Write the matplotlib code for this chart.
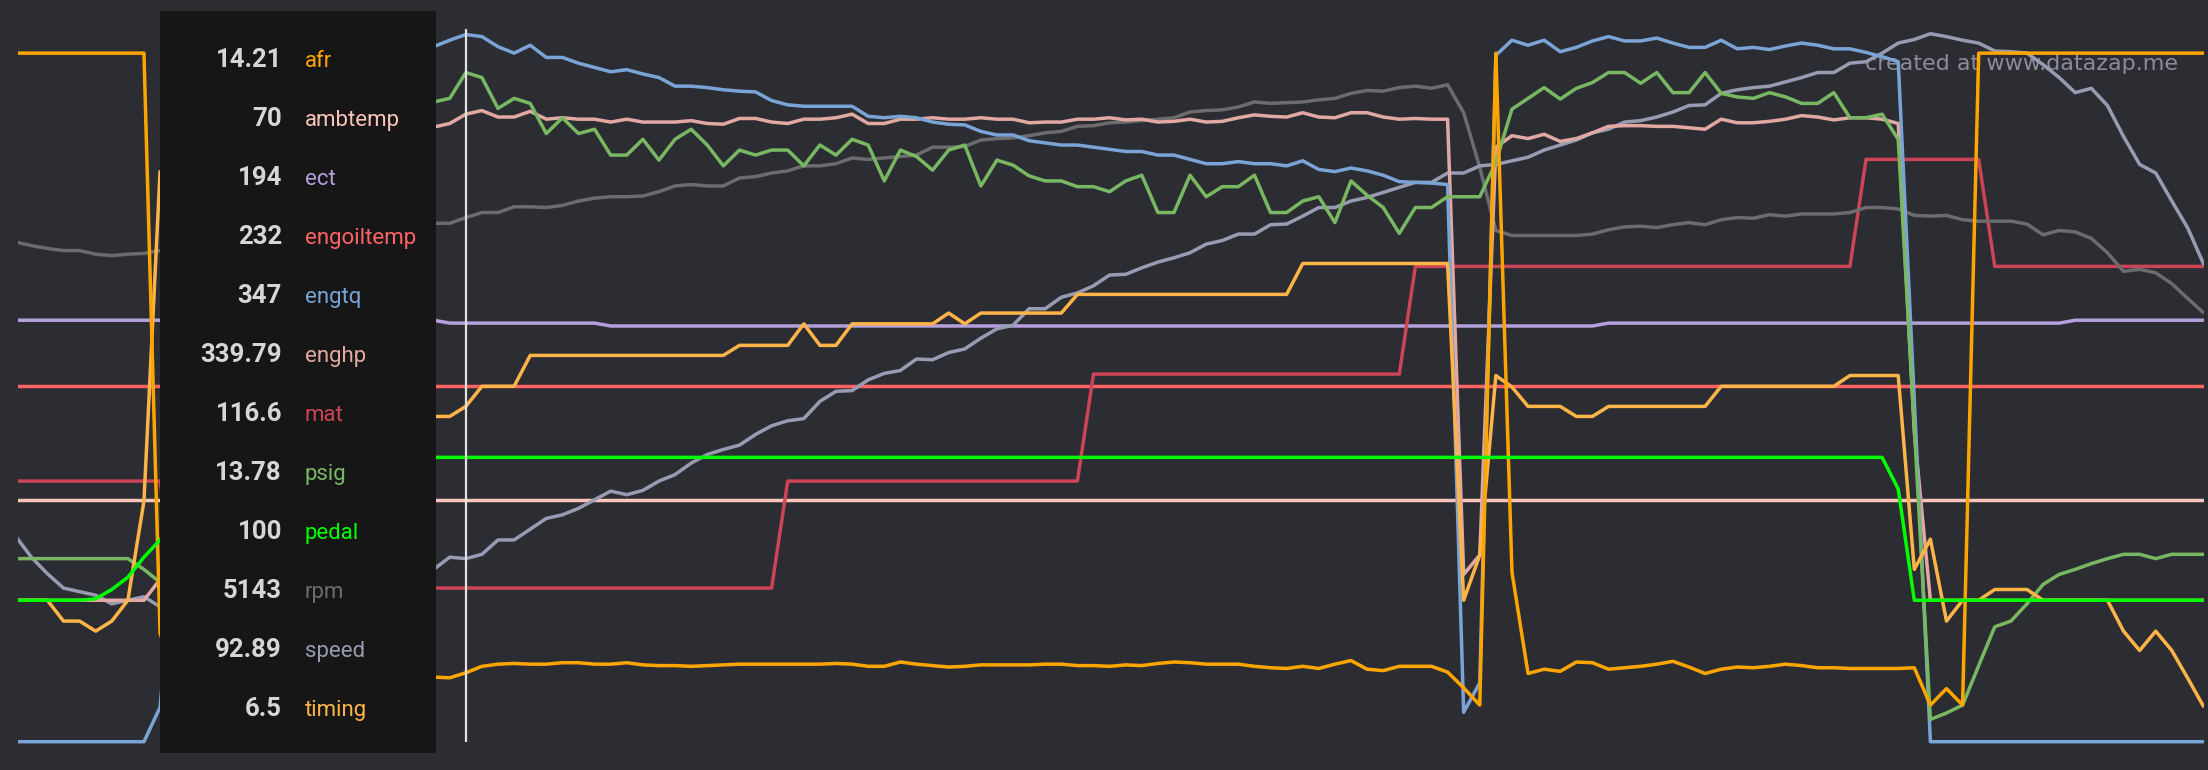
import matplotlib
matplotlib.use("Agg")
import matplotlib.pyplot as plt
from matplotlib.patches import Rectangle
import numpy as np

# datazap style log view: every channel drawn on its own 0-100 scale
# sample index 0..136, cursor sits on sample 28
cursor_idx = 28

afr = ([96.5] * 9 + [15.7]
       + [9.5, 9.8, 10.0, 10.2, 10.5, 10.6, 10.8, 11.0, 11.2, 11.0, 10.8, 10.6, 10.4, 10.2, 10.0, 9.8, 9.6]
       + [9.5, 10.2, 11.1, 11.4, 11.5, 11.4, 11.4, 11.6, 11.6, 11.4,
          11.4, 11.6, 11.3, 11.2, 11.2, 11.1, 11.2, 11.3, 11.4, 11.4,
          11.4, 11.4, 11.4, 11.4, 11.5, 11.4, 11.1, 11.1, 11.7, 11.4,
          11.2, 11.0, 11.1, 11.3, 11.3, 11.3, 11.3, 11.4, 11.4, 11.2,
          11.2, 11.1, 11.3, 11.2, 11.5, 11.7, 11.6, 11.4, 11.4, 11.4,
          11.1, 10.9, 10.8, 11.1, 10.8, 11.4, 11.9, 10.7, 10.5, 11.1,
          11.1, 11.1, 10.3, 8.1, 5.7, 96.5, 24.2, 10.1, 10.7, 10.4,
          11.7, 11.6, 10.7, 10.9, 11.1, 11.4, 11.8, 11.0, 10.1, 10.7,
          11.0, 10.9, 11.1, 11.4, 11.2, 10.9, 10.9, 10.8, 10.8, 10.8,
          10.8, 10.9, 5.7, 8.0, 5.7]
       + [96.5] * 15)

ambtemp = [34.3] * 137

ect = [59.3] * 27 + [58.9] * 10 + [58.5] * 62 + [58.9] * 29 + [59.3] * 9

engoiltemp = [50.1] * 137

engtq = ([0.6] * 9 + [5.4]
         + [30, 60, 80, 88, 92, 94, 95, 95.5, 96, 96, 96.5, 96.5, 97, 97, 97, 97.2, 97.4]
         + [98.3, 99.1, 98.8, 97.4, 96.5, 97.6, 95.9, 95.9, 95.1, 94.5,
            93.9, 94.2, 93.6, 93.1, 91.9, 91.9, 91.7, 91.4, 91.2, 91.1,
            89.9, 89.3, 89.1, 89.1, 89.1, 89.1, 87.7, 87.5, 87.7, 87.5,
            86.9, 86.6, 86.5, 85.6, 85.1, 85.1, 84.3, 84.0, 83.7, 83.7,
            83.4, 83.1, 82.8, 82.8, 82.3, 82.3, 81.7, 81.1, 81.1, 81.4,
            81.1, 81.1, 80.8, 81.5, 80.3, 80.0, 80.5, 80.1, 79.5, 78.6,
            78.5, 78.4, 78.2, 4.7, 8.8, 96.2, 98.3, 97.6, 98.3, 96.7,
            97.3, 98.2, 98.8, 98.2, 98.2, 98.6, 97.9, 97.3, 97.3, 98.3,
            97.1, 97.3, 97.0, 97.5, 97.9, 97.6, 97.1, 97.1, 96.6, 96.0,
            95.3, 48.2]
         + [0.6] * 18)

enghp = ([20.3] * 9 + [23.2]
         + [35, 55, 70, 78, 82, 84, 85, 85.5, 86, 86, 86.2, 86.3, 86.3, 86.1, 86.0, 86.1, 86.2]
         + [86.7, 88.0, 88.5, 87.6, 87.6, 88.4, 87.3, 87.5, 87.3, 87.3,
            86.9, 87.3, 86.9, 86.9, 86.9, 87.1, 86.7, 86.6, 87.4, 87.4,
            86.9, 86.7, 87.3, 87.3, 87.5, 88.0, 86.7, 86.7, 87.3, 87.3,
            87.5, 87.3, 87.3, 87.5, 87.3, 87.3, 86.8, 86.9, 86.9, 87.3,
            87.3, 87.5, 87.2, 87.3, 86.9, 87.0, 87.3, 86.9, 87.0, 87.5,
            87.9, 87.7, 87.6, 88.2, 87.6, 87.5, 88.2, 88.2, 87.6, 87.3,
            87.4, 87.3, 87.3, 23.9, 26.6, 83.4, 85.0, 84.6, 85.2, 84.2,
            84.6, 85.4, 86.3, 86.4, 86.4, 86.3, 86.3, 86.1, 85.9, 87.3,
            86.8, 86.8, 87.0, 87.3, 87.8, 87.6, 87.2, 87.5, 87.5, 87.3,
            86.7, 43.7]
         + [20.3] * 18)

mat = [36.9] * 10 + [22.0] * 38 + [36.9] * 19 + [51.8] * 20 + [66.8] * 28 + [81.7] * 8 + [66.8] * 14

psig = ([26.1] * 8 + [24.6, 22.8]
        + [24, 30, 40, 55, 68, 76, 80, 83, 85, 86, 87, 87.5, 88, 88.5, 89, 89.3, 89.7]
        + [90.2, 93.8, 93.1, 88.8, 90.2, 89.5, 85.3, 87.5, 85.3, 85.9,
           82.3, 82.3, 84.5, 81.6, 84.5, 85.9, 83.7, 80.8, 83.0, 82.3,
           83.0, 83.0, 80.8, 83.7, 82.3, 84.5, 83.7, 78.7, 83.0, 82.1,
           80.2, 83.0, 83.7, 78.0, 81.6, 80.9, 79.4, 78.7, 78.7, 77.9,
           77.9, 77.2, 78.7, 79.5, 74.3, 74.3, 79.5, 76.5, 77.9, 77.9,
           79.5, 74.3, 74.3, 75.9, 76.5, 72.9, 78.7, 76.7, 75.0, 71.4,
           75.0, 75.0, 76.5, 76.5, 76.5, 81.3, 88.7, 90.2, 91.7, 90.1,
           91.6, 92.4, 93.8, 93.8, 92.3, 93.8, 91.0, 91.0, 93.8, 90.9,
           90.4, 90.2, 91.0, 90.4, 89.5, 89.5, 91.0, 87.5, 87.5, 88.0,
           84.5, 44.4, 3.7, 4.6, 5.7, 11.2, 16.6, 17.4, 19.8, 22.5,
           23.9, 24.6, 25.4, 26.1, 26.7, 26.7, 26.1, 26.7, 26.7, 26.7])

pedal = ([20.3] * 5 + [20.5, 21.8, 23.5, 26.3, 28.7]
         + [32, 36, 39] + [40.2] * 14
         + [40.2] * 90 + [35.8] + [20.3] * 19)

rpm = ([70.2, 69.7, 69.3, 69.0, 69.0, 68.5, 68.3, 68.5, 68.6, 69.0]
       + [69.3, 69.5, 69.8, 70.1, 70.2, 70.6, 70.8, 71.0, 71.3, 71.5, 71.9, 72.0, 72.1, 72.4, 72.5, 72.6, 72.8]
       + [72.8, 73.6, 74.3, 74.3, 75.1, 75.1, 75.0, 75.3, 75.9, 76.3,
          76.5, 76.5, 76.6, 77.2, 78.0, 78.2, 78.0, 78.0, 79.1, 79.3,
          79.8, 80.1, 80.8, 80.8, 81.1, 81.9, 81.7, 81.9, 82.1, 82.3,
          83.4, 83.4, 83.5, 84.4, 84.6, 84.7, 85.0, 85.4, 85.6, 86.3,
          86.4, 86.8, 86.9, 87.1, 87.3, 87.5, 88.3, 88.5, 88.6, 89.0,
          89.7, 89.5, 89.6, 89.7, 90.0, 90.2, 90.9, 91.3, 91.2, 91.7,
          91.9, 91.6, 92.1, 88.2, 80.6, 71.8, 71.1, 71.1, 71.1, 71.1,
          71.1, 71.3, 71.9, 72.3, 72.4, 72.2, 72.6, 72.9, 72.6, 73.3,
          73.6, 73.5, 74.0, 73.8, 74.1, 74.1, 74.1, 74.3, 75.0, 75.0,
          74.8, 73.9, 73.8, 73.9, 73.3, 73.1, 73.1, 73.1, 72.7, 71.2,
          71.8, 71.6, 70.7, 68.7, 66.1, 66.4, 65.9, 64.4, 62.3, 60.3])

speed = ([29.3, 26.3, 24.0, 22.0, 21.5, 21.0, 19.8, 20.3, 20.8, 19.4]
         + [19.0, 18.6, 18.5, 19.0, 19.4, 20.0, 20.6, 21.0, 21.6, 22.1, 22.5, 23.0, 23.4, 23.8, 24.0, 24.3, 24.6]
         + [26.3, 26.1, 26.7, 28.7, 28.7, 30.2, 31.7, 32.2, 33.1, 34.3,
            35.5, 35.0, 35.6, 36.9, 37.8, 39.4, 40.6, 41.3, 41.9, 43.4,
            44.6, 45.3, 45.6, 48.0, 49.4, 49.5, 51.0, 51.9, 52.3, 53.9,
            53.8, 54.8, 55.3, 56.8, 58.1, 58.6, 60.9, 60.9, 62.5, 63.1,
            64.1, 65.6, 65.7, 66.6, 67.4, 68.0, 68.7, 69.9, 70.4, 71.3,
            71.3, 72.6, 72.7, 73.8, 75.0, 75.0, 75.9, 76.4, 77.1, 77.8,
            78.5, 78.5, 79.8, 79.8, 80.8, 81.0, 81.5, 82.0, 83.0, 83.7,
            84.4, 85.4, 85.9, 86.9, 87.1, 87.6, 88.3, 89.2, 89.3, 90.9,
            91.4, 91.7, 91.9, 92.5, 93.1, 93.8, 93.8, 95.1, 95.3, 96.5,
            97.9, 98.4, 99.2, 98.8, 98.3, 97.9, 96.8, 96.7, 96.5, 94.9,
            93.1, 91.0, 91.6, 89.2, 84.9, 81.0, 79.8, 75.9, 72.1, 67.0])

timing = ([20.3, 20.3, 20.3, 17.4, 17.4, 16.0, 17.4, 20.3, 34.1, 80.0]
          + [75.0, 55.0, 48.0, 46.5, 46.0, 46.0] + [45.9] * 11
          + [45.9, 47.3] + [50.1] * 3 + [54.4] * 13 + [55.8] * 4
          + [58.8, 55.8, 55.8] + [58.8] * 6 + [60.3, 58.8] + [60.3] * 6
          + [62.9] * 14 + [67.2] * 10
          + [20.3, 26.6, 51.6, 50.0] + [47.3] * 3 + [45.9] * 2 + [47.3] * 7
          + [50.1] * 8 + [51.6] * 4
          + [24.6, 28.8, 17.4, 20.3, 20.3] + [21.8] * 3 + [20.3] * 5
          + [16.0, 13.3, 16.0, 13.3, 9.4, 5.4])

names = ["afr", "ambtemp", "ect", "engoiltemp", "engtq", "enghp",
         "mat", "psig", "pedal", "rpm", "speed", "timing"]
cursor_vals = ["14.21", "70", "194", "232", "347", "339.79",
               "116.6", "13.78", "100", "5143", "92.89", "6.5"]
colors = {
    "afr": "#ffa500", "ambtemp": "#fbc4ba", "ect": "#b4a0dc",
    "engoiltemp": "#ff6464", "engtq": "#7aa4d6", "enghp": "#e2a9a3",
    "mat": "#cc4456", "psig": "#79b862", "pedal": "#00ff00",
    "rpm": "#6c6c6c", "speed": "#989cb2", "timing": "#ffb447",
}
series = {"afr": afr, "ambtemp": ambtemp, "ect": ect, "engoiltemp": engoiltemp,
          "engtq": engtq, "enghp": enghp, "mat": mat, "psig": psig,
          "pedal": pedal, "rpm": rpm, "speed": speed, "timing": timing}

# draw order (last on top)
draw_order = ["ambtemp", "ect", "engoiltemp", "mat", "rpm", "speed",
              "enghp", "engtq", "psig", "timing", "afr", "pedal"]

bg = "#2c2d33"
W, H = 2208, 770
fig = plt.figure(figsize=(W / 100, H / 100), dpi=100, facecolor=bg)
ax = fig.add_axes([18 / W, 0, 2186 / W, 1])
ax.set_facecolor(bg)
ax.axis("off")

for name in draw_order:
    y = np.array(series[name])
    x = np.arange(len(y))
    ax.plot(x, y, color=colors[name], lw=2.5, solid_joinstyle="round",
            solid_capstyle="butt")

ax.set_xlim(0.174, 136)
ax.set_ylim(-3.34, 103.9)

# cursor
ax.vlines(cursor_idx, 0.5, 99.8, color="#e2e2e2", lw=1.6, zorder=10)

# watermark
ax.text(1865 / W, 1 - 69.5 / H, "created at www.datazap.me", transform=fig.transFigure,
        fontsize=16, color="#8b8b9b", ha="left", va="baseline", zorder=1,
        family="DejaVu Sans")

# tooltip box
box = Rectangle((160 / W, (H - 752.5) / H), 276 / W, 741.7 / H,
                transform=fig.transFigure, facecolor="#161616",
                edgecolor="none", zorder=20)
fig.patches.append(box)

for k, (name, val) in enumerate(zip(names, cursor_vals)):
    yb = 1 - (66.7 + 59.0 * k) / H
    fig.text(282 / W, yb, val, ha="right", va="baseline", fontsize=18.5,
             fontweight="bold", color="#d6d6d6", family="Roboto", zorder=21)
    fig.text(305 / W, yb, name, ha="left", va="baseline", fontsize=16,
             color=colors[name], family="Roboto", zorder=21)

fig.savefig("out.png", dpi=100, facecolor=bg)
